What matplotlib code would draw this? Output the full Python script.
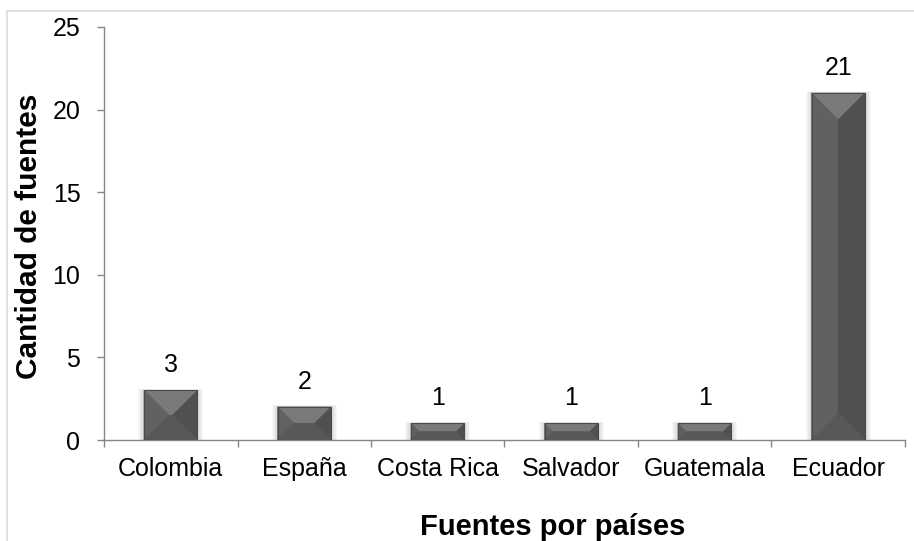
import numpy as np
import matplotlib.pyplot as plt
from matplotlib.patches import Polygon, Rectangle

paises = ["Colombia", "España", "Costa Rica", "Salvador", "Guatemala", "Ecuador"]
fuentes = [3, 2, 1, 1, 1, 21]
y_ticks = [0, 5, 10, 15, 20, 25]

plt.rcParams['font.family'] = ['Liberation Sans', 'DejaVu Sans']

W, H = 914, 541
fig = plt.figure(figsize=(W / 100, H / 100), dpi=100)
ax = fig.add_axes([104 / W, 1 - 440 / H, 801 / W, 413 / H])

# marco exterior del gráfico (sólo se ven el borde izquierdo y el superior)
fig.patches.append(Rectangle((7, -2000), 3000, 2000 + H - 11, transform=None,
                             fill=False, edgecolor="#d9d9d9", lw=1.2))

x = np.arange(len(paises))
ancho = 0.4
ax.set_xlim(-0.5, len(paises) - 0.5)
ax.set_ylim(0, 25)

barras = ax.bar(x, fuentes, width=ancho, color="#5a5a5a", zorder=2)


def bisel(rect):
    # caras del bisel en píxeles, luego de vuelta a coordenadas de datos
    x0, y0 = rect.get_x(), rect.get_y()
    x1, y1 = x0 + rect.get_width(), y0 + rect.get_height()
    (px0, py0), (px1, py1) = ax.transData.transform([(x0, y0), (x1, y1)])
    b = min(px1 - px0, py1 - py0) / 2
    ix0, ix1, iy0, iy1 = px0 + b, px1 - b, py0 + b, py1 - b
    inv = ax.transData.inverted()
    caras = [
        ([(px0, py1), (px1, py1), (ix1, iy1), (ix0, iy1)], "#7a7a7a"),
        ([(px0, py0), (px0, py1), (ix0, iy1), (ix0, iy0)], "#616161"),
        ([(px1, py0), (px1, py1), (ix1, iy1), (ix1, iy0)], "#505050"),
        ([(px0, py0), (px1, py0), (ix1, iy0), (ix0, iy0)], "#585858"),
    ]
    # sombra difusa a los lados de la barra
    for k in range(1, 7):
        pts = inv.transform([(px0 - k, py0), (px1 + k, py0),
                             (px1 + k, py1 + k * 0.3), (px0 - k, py1 + k * 0.3)])
        ax.add_patch(Polygon(pts, closed=True, facecolor="#8a8a8a", alpha=0.06,
                             lw=0, zorder=1))
    for pts, c in caras:
        ax.add_patch(Polygon(inv.transform(pts), closed=True, facecolor=c,
                             edgecolor=c, lw=0.5, zorder=3))
    ax.add_patch(Rectangle((x0, y0), x1 - x0, y1 - y0, fill=False,
                           edgecolor="#4a4a4a", lw=0.8, zorder=4))


for r, v in zip(barras, fuentes):
    bisel(r)
    ax.annotate(str(v), (r.get_x() + r.get_width() / 2, v),
                xytext=(0, 13), textcoords="offset points",
                ha="center", va="baseline", fontsize=18)

ax.set_yticks(y_ticks)
ax.set_xticks(x)
ax.set_xticklabels(paises)
ax.set_xticks(np.arange(-0.5, len(paises)), minor=True)
ax.tick_params(axis="y", labelsize=18, length=5, width=1, color="#868686",
               direction="out", pad=12)
ax.tick_params(axis="x", which="major", labelsize=18, length=0, pad=12)
ax.tick_params(axis="x", which="minor", length=5, width=1, color="#868686",
               direction="out")

for s in ["top", "right"]:
    ax.spines[s].set_visible(False)
for s in ["left", "bottom"]:
    ax.spines[s].set_color("#868686")
    ax.spines[s].set_linewidth(1)

fig.text(29 / W, 1 - 236 / H, "Cantidad de fuentes", rotation=90,
         ha="center", va="center", fontsize=21.5, fontweight="bold")
fig.text(553 / W, 1 - 535 / H, "Fuentes por países", ha="center",
         va="baseline", fontsize=21, fontweight="bold")

fig.savefig("out.png", dpi=100)
